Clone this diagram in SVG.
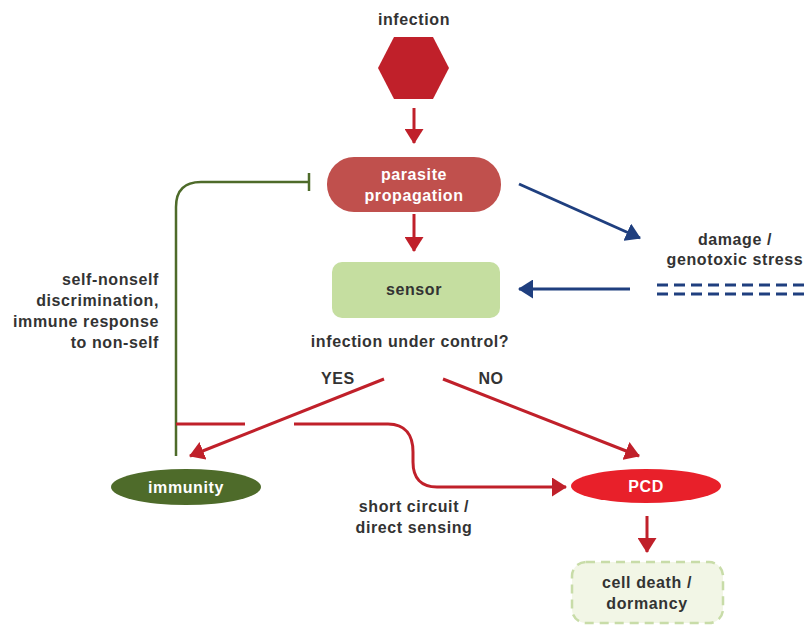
<svg xmlns="http://www.w3.org/2000/svg" width="808" height="628" viewBox="0 0 808 628">
<style>
text{font-family:"Liberation Sans",Arial,sans-serif;font-weight:bold;font-size:16px;letter-spacing:0.6px;fill:#333333;text-anchor:middle}
.w{fill:#ffffff}
.r{stroke:#c0202a;stroke-width:3;fill:none}
.b{stroke:#1f3f7f;stroke-width:3;fill:none}
.g{stroke:#4e6b2a;stroke-width:2.5;fill:none}
</style>
<defs>
<marker id="ar" markerUnits="userSpaceOnUse" markerWidth="15" markerHeight="19" refX="14" refY="9.5" orient="auto" viewBox="0 0 15 19"><path d="M0,0 L15,9.5 L0,19 z" fill="#c0202a"/></marker>
<marker id="ab" markerUnits="userSpaceOnUse" markerWidth="15" markerHeight="19" refX="14" refY="9.5" orient="auto" viewBox="0 0 15 19"><path d="M0,0 L15,9.5 L0,19 z" fill="#1f3f7f"/></marker>
</defs>
<rect width="808" height="628" fill="#ffffff"/>
<g id="infection">
<text x="414" y="25">infection</text>
<polygon points="378,68 394,37 433,37 449,68 433,99 394,99" fill="#c0202a"/>
</g>
<g id="parasite">
<rect x="327" y="157" width="174" height="55" rx="27" fill="#c0504d"/>
<text class="w" x="414" y="180">parasite</text>
<text class="w" x="414" y="201">propagation</text>
</g>
<g id="sensor">
<rect x="332" y="262" width="168" height="56" rx="10" fill="#c5dea0"/>
<text x="414" y="295">sensor</text>
</g>
<g id="damage">
<text x="735" y="245">damage /</text>
<text x="735" y="265">genotoxic stress</text>
<g stroke="#1f3f7f" stroke-width="3" stroke-dasharray="11,6">
<line x1="657" y1="285" x2="808" y2="285"/>
<line x1="657" y1="294" x2="808" y2="294"/>
</g>
</g>
<g id="question">
<text x="410" y="347">infection under control?</text>
<text x="338" y="384">YES</text>
<text x="491" y="384">NO</text>
</g>
<g id="selfnonself">
<text x="159" y="285" style="text-anchor:end">self-nonself</text>
<text x="159" y="306" style="text-anchor:end">discrimination,</text>
<text x="159" y="327" style="text-anchor:end">immune response</text>
<text x="159" y="348" style="text-anchor:end">to non-self</text>
</g>
<g id="immunity">
<ellipse cx="186" cy="487" rx="75" ry="18" fill="#4e6b2a"/>
<text class="w" x="186" y="493">immunity</text>
</g>
<g id="pcd">
<ellipse cx="646" cy="486" rx="75" ry="17" fill="#e8202a"/>
<text class="w" x="646" y="492">PCD</text>
</g>
<g id="shortcircuit">
<text x="414" y="512">short circuit /</text>
<text x="414" y="533">direct sensing</text>
</g>
<g id="celldeath">
<rect x="572" y="562" width="151" height="61" rx="14" fill="#f2f6e6" stroke="#c8dca8" stroke-width="2.5" stroke-dasharray="9,6"/>
<text x="647" y="588">cell death /</text>
<text x="647" y="609">dormancy</text>
</g>
<g id="connectors">
<line class="r" x1="414" y1="108" x2="414" y2="143" marker-end="url(#ar)"/>
<line class="r" x1="414" y1="214" x2="414" y2="251" marker-end="url(#ar)"/>
<line class="b" x1="519" y1="184" x2="640" y2="238" marker-end="url(#ab)"/>
<line class="b" x1="630" y1="289" x2="519" y2="289" marker-end="url(#ab)"/>
<path class="g" d="M176,456 V207 Q176,182 201,182 H309"/>
<line class="g" x1="309" y1="173" x2="309" y2="191"/>
<line class="r" x1="176" y1="424" x2="245" y2="424"/>
<line class="r" x1="384" y1="379" x2="190" y2="456" marker-end="url(#ar)"/>
<line class="r" x1="443" y1="379" x2="639" y2="456" marker-end="url(#ar)"/>
<path class="r" d="M294,424 H388 C406,424 413,436 413,452 V462 C413,478 421,487 437,487 H566" marker-end="url(#ar)"/>
<line class="r" x1="647" y1="516" x2="647" y2="552" marker-end="url(#ar)"/>
</g>
</svg>
